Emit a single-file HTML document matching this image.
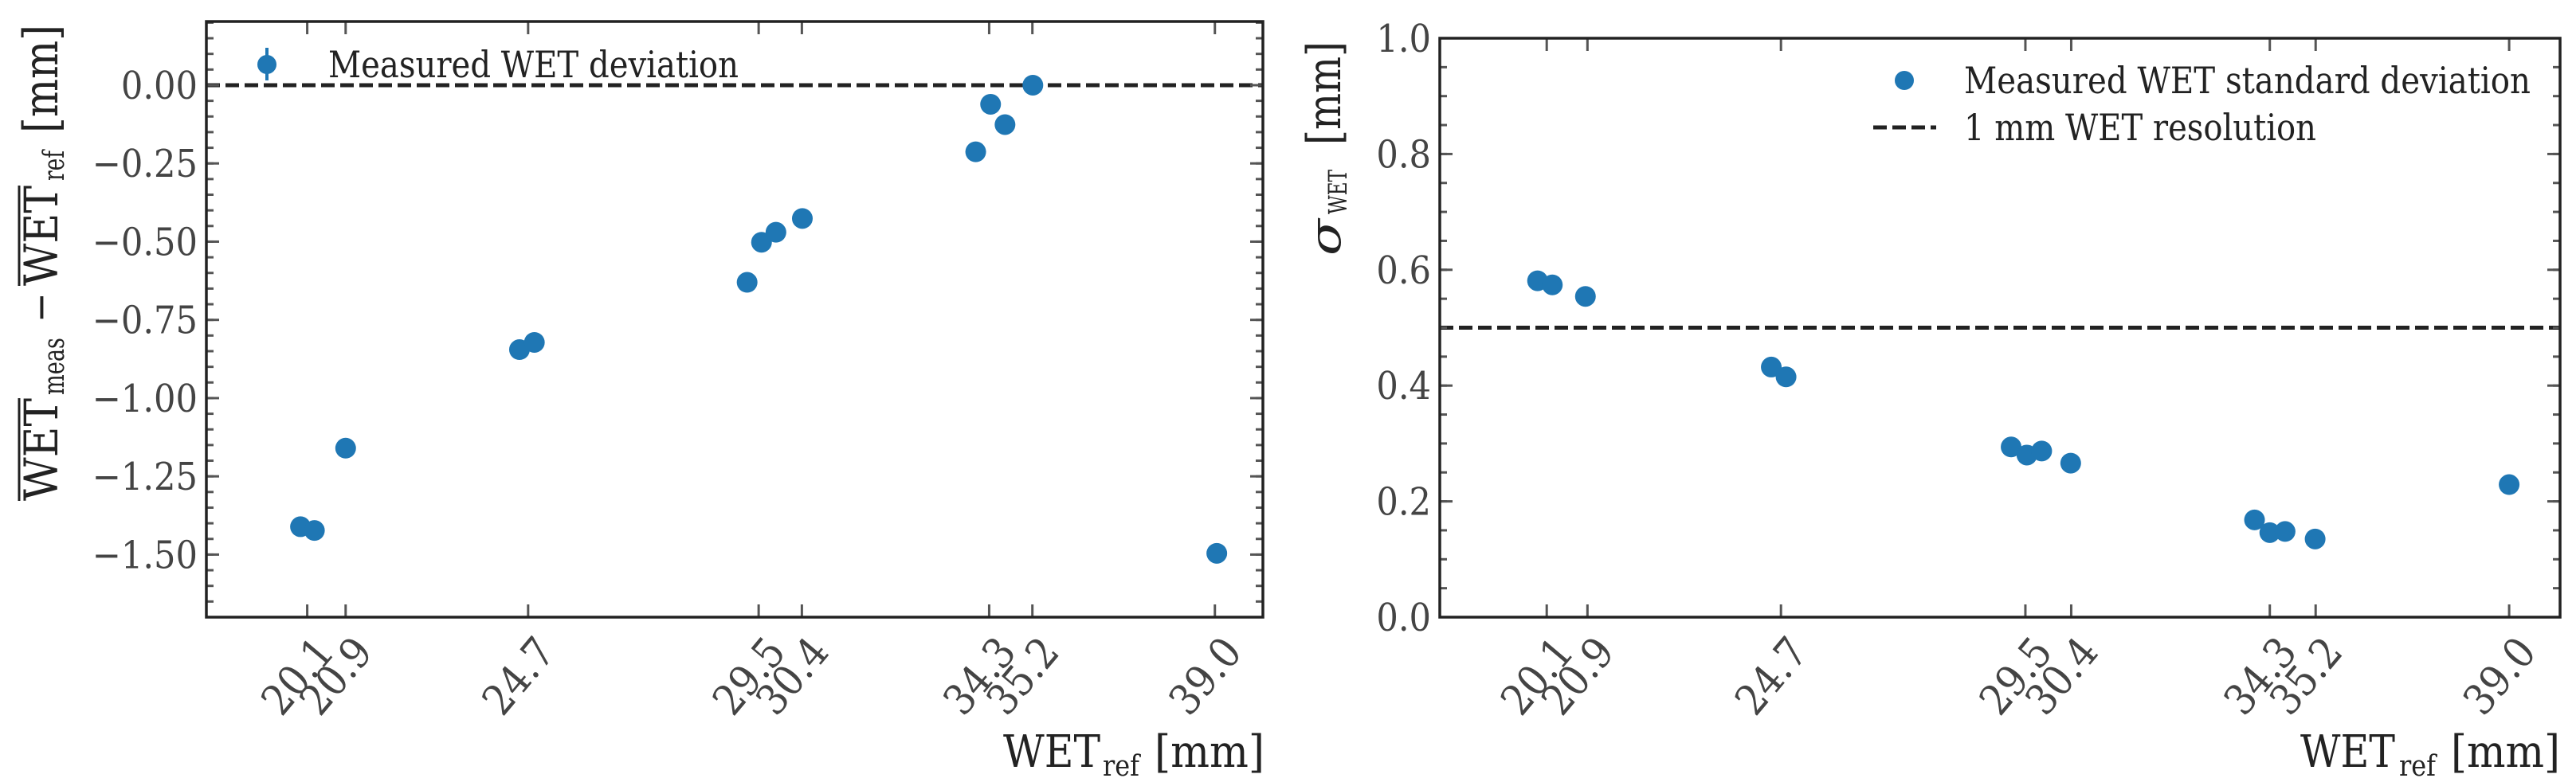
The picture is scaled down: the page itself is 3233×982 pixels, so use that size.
<!DOCTYPE html>
<html><head><meta charset="utf-8"><style>
html,body{margin:0;padding:0;background:#fff;}
svg{display:block;font-family:"DejaVu Serif Condensed","DejaVu Serif","Liberation Serif",serif;font-stretch:condensed;}
</style></head><body>
<svg id="fig" width="3233" height="982" viewBox="0 0 3233 982" xmlns="http://www.w3.org/2000/svg">
  <rect width="3233" height="982" fill="#fff"/>
  <g id="left-panel"></g>
  <g id="right-panel"></g>
  <g transform="translate(72,629) rotate(-90)" fill="#222">
    <text x="0" y="0" font-size="58" textLength="129" lengthAdjust="spacingAndGlyphs">WET</text>
    <line x1="0" y1="-48" x2="129" y2="-48" stroke="#222" stroke-width="3"/>
    <text x="133" y="8" font-size="36" textLength="72" lengthAdjust="spacingAndGlyphs">meas</text>
    <text x="224" y="-4" font-size="50">−</text>
    <text x="270" y="0" font-size="58" textLength="126" lengthAdjust="spacingAndGlyphs">WET</text>
    <line x1="270" y1="-48" x2="396" y2="-48" stroke="#222" stroke-width="3"/>
    <text x="402" y="8" font-size="36" textLength="38" lengthAdjust="spacingAndGlyphs">ref</text>
    <text x="462" y="0" font-size="60" textLength="136" lengthAdjust="spacingAndGlyphs">[mm]</text>
  </g>
  <g transform="translate(1682,321) rotate(-90)" fill="#222">
    <text x="0" y="0" font-size="54" font-style="italic" textLength="46" lengthAdjust="spacingAndGlyphs">σ</text>
    <text x="52" y="8" font-size="32" textLength="56" lengthAdjust="spacingAndGlyphs">WET</text>
    <text x="139" y="0" font-size="58" textLength="130" lengthAdjust="spacingAndGlyphs">[mm]</text>
  </g>
  <g fill="#222">
    <text x="1259" y="963" font-size="56" textLength="122" lengthAdjust="spacingAndGlyphs">WET</text>
    <text x="1384" y="974" font-size="36" textLength="46" lengthAdjust="spacingAndGlyphs">ref</text>
    <text x="1449" y="963" font-size="56" textLength="138" lengthAdjust="spacingAndGlyphs">[mm]</text>
  </g>
  <g fill="#222">
    <text x="2887" y="963" font-size="56" textLength="119" lengthAdjust="spacingAndGlyphs">WET</text>
    <text x="3011" y="974" font-size="36" textLength="46" lengthAdjust="spacingAndGlyphs">ref</text>
    <text x="3076" y="963" font-size="56" textLength="137" lengthAdjust="spacingAndGlyphs">[mm]</text>
  </g>
  <g>
    <line x1="335" y1="60" x2="335" y2="101" stroke="#1f77b4" stroke-width="4"/>
    <ellipse cx="335" cy="81" rx="12" ry="12" fill="#1f77b4"/>
    <text x="412" y="97" font-size="46" fill="#222" textLength="515" lengthAdjust="spacingAndGlyphs">Measured WET deviation</text>
  </g>
  <g>
    <ellipse cx="2390" cy="101" rx="12" ry="12" fill="#1f77b4"/>
    <text x="2465" y="117" font-size="46" fill="#222" textLength="711" lengthAdjust="spacingAndGlyphs">Measured WET standard deviation</text>
    <line x1="2351" y1="160" x2="2430" y2="160" stroke="#222" stroke-width="5" stroke-dasharray="17 7"/>
    <text x="2465" y="176" font-size="46" fill="#222" textLength="442" lengthAdjust="spacingAndGlyphs">1 mm WET resolution</text>
  </g>
</svg>
<script>
const xTickValues = [20.1, 20.9, 24.7, 29.5, 30.4, 34.3, 35.2, 39.0];
const xTickLabels = ["20.1", "20.9", "24.7", "29.5", "30.4", "34.3", "35.2", "39.0"];
const devX = [19.96, 20.25, 20.9, 24.52, 24.83, 29.26, 29.56, 29.86, 30.41, 34.02, 34.33, 34.63, 35.21, 39.04];
const devY = [-1.411, -1.423, -1.16, -0.845, -0.822, -0.63, -0.502, -0.47, -0.426, -0.213, -0.061, -0.126, 0.0, -1.496];
const devYTicks = [0, -0.25, -0.5, -0.75, -1.0, -1.25, -1.5];
const devYTickLabels = ["0.00", "−0.25", "−0.50", "−0.75", "−1.00", "−1.25", "−1.50"];
const sdX = [19.92, 20.21, 20.86, 24.51, 24.80, 29.22, 29.53, 29.82, 30.39, 34.0, 34.3, 34.6, 35.19, 39.0];
const sdY = [0.581, 0.574, 0.554, 0.432, 0.415, 0.294, 0.280, 0.287, 0.266, 0.168, 0.146, 0.148, 0.135, 0.229];
const sdYTicks = [0, 0.2, 0.4, 0.6, 0.8, 1.0];
const sdYTickLabels = ["0.0", "0.2", "0.4", "0.6", "0.8", "1.0"];
const devRef = [0];
const sdRef = [0.5];

const NS = "http://www.w3.org/2000/svg";
function mk(tag, attrs, parent) {
  const e = document.createElementNS(NS, tag);
  for (const k in attrs) e.setAttribute(k, attrs[k]);
  parent.appendChild(e);
  return e;
}

function drawPanel(g, box, xlim, ylim, xs, ys, yTicks, yTickLabels, minorStep, refVals, prefix) {
  const sx = v => box.x0 + (v - xlim[0]) / (xlim[1] - xlim[0]) * (box.x1 - box.x0);
  const sy = v => box.y1 - (v - ylim[0]) / (ylim[1] - ylim[0]) * (box.y1 - box.y0);
  refVals.forEach(r => {
    const l = mk("line", {x1: box.x0, x2: box.x1, y1: sy(r), y2: sy(r), stroke: "#222", "stroke-width": 5, "stroke-dasharray": "17 7"}, g);
    
    
  });
  const nMin = Math.ceil((ylim[0] - 1e-9) / minorStep), nMax = Math.floor((ylim[1] + 1e-9) / minorStep);
  for (let i = nMin; i <= nMax; i++) {
    const y = sy(i * minorStep);
    mk("line", {x1: box.x0, x2: box.x0 + 9, y1: y, y2: y, stroke: "#555", "stroke-width": 3}, g);
    mk("line", {x1: box.x1, x2: box.x1 - 9, y1: y, y2: y, stroke: "#555", "stroke-width": 3}, g);
  }
  yTicks.forEach((v, i) => {
    const y = sy(v);
    mk("line", {x1: box.x0, x2: box.x0 + 16, y1: y, y2: y, stroke: "#555", "stroke-width": 3}, g);
    mk("line", {x1: box.x1, x2: box.x1 - 16, y1: y, y2: y, stroke: "#555", "stroke-width": 3}, g);
    const t = mk("text", {x: box.x0 - 11, y: y + 17, "text-anchor": "end", "font-size": 48, fill: "#444"}, g);
    t.textContent = yTickLabels[i];
    
    
  });
  xTickValues.forEach((v, i) => {
    const x = sx(v);
    mk("line", {x1: x, x2: x, y1: box.y1, y2: box.y1 - 16, stroke: "#555", "stroke-width": 3}, g);
    mk("line", {x1: x, x2: x, y1: box.y0, y2: box.y0 + 16, stroke: "#555", "stroke-width": 3}, g);
    const ax = x + 36, ay = 820;
    const t = mk("text", {x: ax, y: ay, "text-anchor": "end", "font-size": 53, fill: "#444", transform: `rotate(-50 ${ax} ${ay})`}, g);
    t.textContent = xTickLabels[i];
    
    
  });
  xs.forEach((v, i) => {
    const c = mk("circle", {cx: sx(v), cy: sy(ys[i]), r: 13, fill: "#1f77b4"}, g);
    
    
  });
  const f = mk("rect", {x: box.x0, y: box.y0, width: box.x1 - box.x0, height: box.y1 - box.y0, fill: "none", stroke: "#222", "stroke-width": 3.5}, g);
  
  
}

drawPanel(document.getElementById("left-panel"), {x0: 259, x1: 1585, y0: 27, y1: 775},
  [18, 40], [-1.70, 0.2035], devX, devY, devYTicks, devYTickLabels, 0.05, devRef, "deviation");
drawPanel(document.getElementById("right-panel"), {x0: 1807, x1: 3213, y0: 48, y1: 775},
  [18, 40], [0, 1.0], sdX, sdY, sdYTicks, sdYTickLabels, 0.05, sdRef, "std-dev");
</script>
</body></html>
